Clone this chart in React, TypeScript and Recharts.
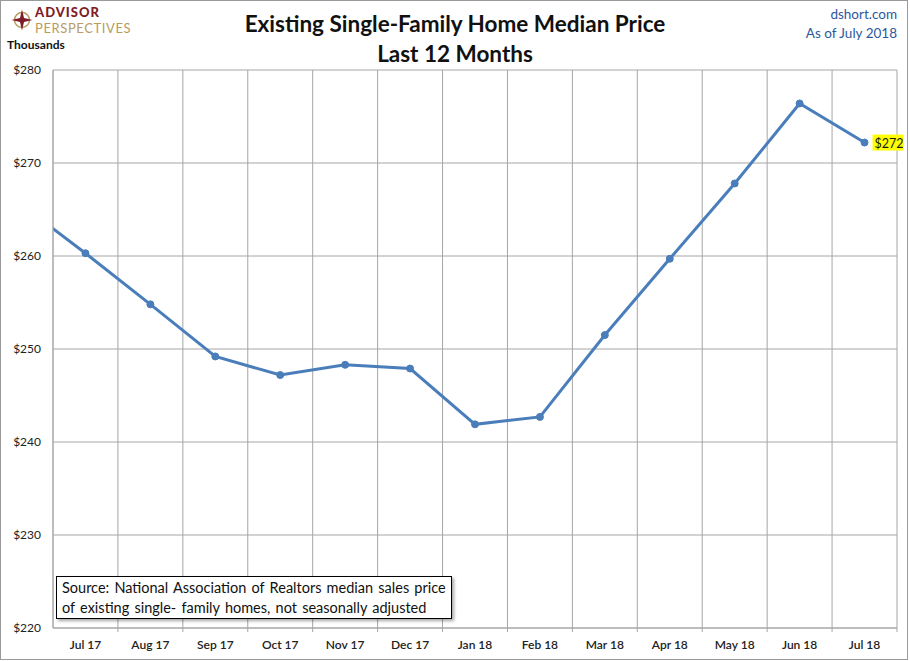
import React from 'react';
import { LineChart, Line, XAxis, YAxis, CartesianGrid, LabelList } from 'recharts';

// month labels; the first one sits left of the plot and is clipped away
const months = ['Jun 17', 'Jul 17', 'Aug 17', 'Sep 17', 'Oct 17', 'Nov 17', 'Dec 17', 'Jan 18', 'Feb 18', 'Mar 18', 'Apr 18', 'May 18', 'Jun 18', 'Jul 18'];
const prices = [265.6, 260.3, 254.8, 249.2, 247.2, 248.3, 247.9, 241.9, 242.7, 251.5, 259.7, 267.8, 276.4, 272.2];
const yTicks = [220, 230, 240, 250, 260, 270, 280];
const xTicks = [0, 1, 2, 3, 4, 5, 6, 7, 8, 9, 10, 11, 12];

const data = months.map((m, i) => ({ x: i - 1, month: m, price: prices[i] }));

const W = 910;
const H = 661;
const FONT = 'Lato, "Open Sans", sans-serif';
const LINE_BLUE = '#4A7EBB';

const XTick = (props: any) => {
    const { x, y, payload } = props;
    const label = months[payload.value + 1];
    const half = 844 / 13 / 2;
    return (
        <g>
            <line x1={x + half} x2={x + half} y1={y} y2={y + 4} stroke="#a6a6a6" />
            <text x={x} y={y + 21} textAnchor="middle" fontSize={12} fontWeight={600} fill="#222" fontFamily={FONT}>
                {label}
            </text>
        </g>
    );
};

const LastLabel = (props: any) => {
    const { x, y, index, value } = props;
    if (index !== data.length - 1) return null;
    return (
        <g>
            <rect x={x + 8} y={y - 8} width={31} height={16} fill="#FFFF00" />
            <text x={x + 10} y={y + 5} fontSize={12.5} fill="#1a1a1a" fontFamily={FONT}>
                ${Math.round(value)}
            </text>
        </g>
    );
};

const Logo = () => (
    <div style={{ position: 'absolute', left: 11, top: 4, display: 'flex', alignItems: 'center' }}>
        <svg width={22} height={22} viewBox="-11 -11 22 22">
            <circle r={7.5} fill="none" stroke="#B89B5E" strokeWidth={1.5} />
            <polygon points="0,-10.5 2,-2 10.5,0 2,2 0,10.5 -2,2 -10.5,0 -2,-2" fill="#7E1C28" />
            <circle r={2.5} fill="#7E1C28" />
        </svg>
        <div style={{ marginLeft: 2, fontFamily: FONT }}>
            <div style={{ color: '#7E1C28', fontWeight: 900, fontSize: 13, lineHeight: '16px', height: 16, letterSpacing: 1 }}>ADVISOR</div>
            <div style={{ color: '#B89B5E', fontWeight: 400, fontSize: 13, lineHeight: '16px', height: 16, letterSpacing: 0.6 }}>PERSPECTIVES</div>
        </div>
    </div>
);

const App: React.FC = () => {
    return (
        <div style={{ position: 'absolute', left: 0, top: 0, width: W, height: H, background: '#fff', fontFamily: FONT }}>
            <div style={{ position: 'absolute', left: 0, top: 0, width: 908, height: 660, border: '1px solid #9a9a9a', boxSizing: 'border-box' }} />
            <LineChart width={W} height={H} data={data} margin={{ top: 70, right: 13, left: 0, bottom: 0 }}>
                <CartesianGrid
                    stroke="#a6a6a6"
                    verticalCoordinatesGenerator={({ offset }: any) =>
                        Array.from({ length: 14 }, (_, i) => offset.left + (offset.width * i) / 13)
                    }
                />
                <XAxis
                    dataKey="x"
                    type="number"
                    domain={[-0.5, 12.5]}
                    ticks={xTicks}
                    allowDataOverflow
                    interval={0}
                    height={33}
                    tickSize={0}
                    tickMargin={0}
                    tickLine={false}
                    axisLine={{ stroke: '#a6a6a6' }}
                    tick={<XTick />}
                />
                <YAxis
                    type="number"
                    domain={[220, 280]}
                    ticks={yTicks}
                    width={53}
                    tickSize={0}
                    tickMargin={12}
                    axisLine={{ stroke: '#a6a6a6' }}
                    tickFormatter={(v: number) => `$${v}`}
                    tick={{ fontSize: 12, fill: '#222', fontFamily: FONT }}
                />
                <Line
                    type="linear"
                    dataKey="price"
                    stroke={LINE_BLUE}
                    strokeWidth={3}
                    dot={{ r: 3.5, fill: LINE_BLUE, stroke: LINE_BLUE, strokeWidth: 1 }}
                    isAnimationActive={false}
                >
                    <LabelList dataKey="price" content={<LastLabel />} />
                </Line>
            </LineChart>

            <Logo />
            <div style={{ position: 'absolute', left: 7, top: 37, fontSize: 12, fontWeight: 700, color: '#111' }}>Thousands</div>

            <div style={{ position: 'absolute', left: 0, width: W, top: 9, textAlign: 'center', fontSize: 22.5, fontWeight: 700, color: '#111', lineHeight: '30px' }}>
                <div>Existing Single-Family Home Median Price</div>
                <div>Last 12 Months</div>
            </div>

            <div style={{ position: 'absolute', right: 13, top: 5, textAlign: 'right', fontSize: 13.5, color: '#2C58A0', lineHeight: '19px' }}>
                <div>dshort.com</div>
                <div>As of July 2018</div>
            </div>

            <div
                style={{
                    position: 'absolute',
                    left: 56,
                    top: 576,
                    width: 396,
                    height: 43,
                    boxSizing: 'border-box',
                    border: '1px solid #000',
                    background: '#fff',
                    boxShadow: '2px 2px 3px rgba(0,0,0,0.35)',
                    padding: '1px 5px',
                    fontSize: 14.5,
                    lineHeight: '20px',
                    color: '#111',
                    wordSpacing: 1.5,
                }}
            >
                Source: National Association of Realtors median sales price
                <br />
                of existing single- family homes, not seasonally adjusted
            </div>
        </div>
    );
};

export default App;
